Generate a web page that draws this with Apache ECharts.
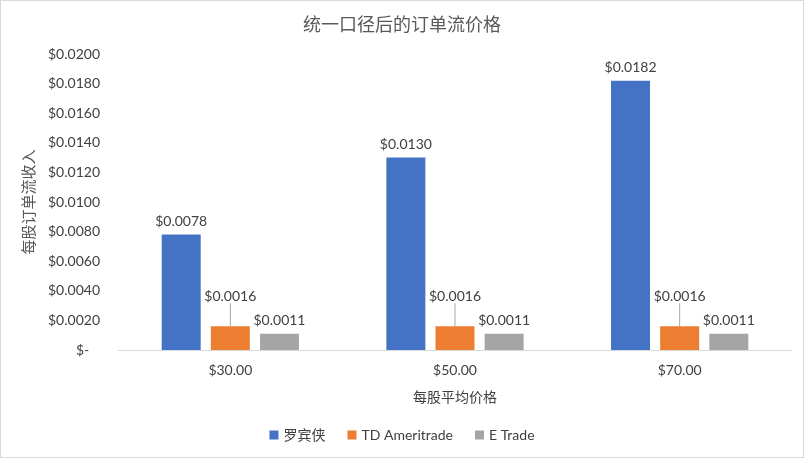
<!DOCTYPE html>
<html>
<head>
<meta charset="utf-8">
<script src="https://cdn.jsdelivr.net/npm/echarts@6/dist/echarts.min.js"></script>
<style>
html,body{margin:0;padding:0;background:#fff;}
#main{width:802px;height:456px;border:1px solid #d9d9d9;}
</style>
</head>
<body>
<div id="main"></div>
<script>
var categories=["$30.00","$50.00","$70.00"];
var seriesNames=["罗宾侠","TD Ameritrade","E Trade"];
var robinhood=[0.0078,0.0130,0.0182];
var tdAmeritrade=[0.0016,0.0016,0.0016];
var eTrade=[0.0011,0.0011,0.0011];
var colors=["#4472C4","#ED7D31","#A5A5A5"];

var fontMain='Lato, "Noto Sans CJK SC", sans-serif';

function money(v){
    return "$"+Number(v).toFixed(4);
}

function makeSeries(name,data,color,raise){
    var s={
        name:name,
        type:"bar",
        data:data,
        barWidth:39,
        barGap:"26%",
        itemStyle:{color:color},
        label:{
            show:true,
            position:"top",
            distance:6,
            color:"#404040",
            fontSize:14,
            fontFamily:fontMain,
            formatter:function(p){return money(p.value);}
        }
    };
    if(raise){
        s.labelLayout={dy:-17};
        s.labelLine={show:true,lineStyle:{color:"#a6a6a6",width:1}};
    }
    return s;
}

var myChart=echarts.init(document.getElementById("main"));
var option={
    backgroundColor:"#fff",
    animation:false,
    title:{
        text:"统一口径后的订单流价格",
        left:"center",
        top:10,
        textStyle:{color:"#595959",fontSize:18,fontWeight:"normal",fontFamily:fontMain}
    },
    legend:{
        bottom:10,
        left:"center",
        itemWidth:9,
        itemHeight:9,
        itemGap:22,
        icon:"rect",
        textStyle:{color:"#404040",fontSize:14,fontFamily:fontMain},
        data:seriesNames
    },
    grid:{left:117,right:11,top:53,bottom:107,containLabel:false},
    xAxis:{
        type:"category",
        data:categories,
        name:"每股平均价格",
        nameLocation:"middle",
        nameGap:40,
        nameTextStyle:{color:"#404040",fontSize:14,fontFamily:fontMain},
        axisLine:{lineStyle:{color:"#d9d9d9"}},
        axisTick:{show:false},
        axisLabel:{color:"#404040",fontSize:14,margin:13,fontFamily:fontMain}
    },
    yAxis:{
        type:"value",
        min:0,
        max:0.02,
        interval:0.002,
        name:"每股订单流收入",
        nameLocation:"middle",
        nameRotate:90,
        nameGap:78,
        nameTextStyle:{color:"#595959",fontSize:15,fontFamily:fontMain},
        splitLine:{show:false},
        axisLine:{show:false},
        axisTick:{show:false},
        axisLabel:{
            color:"#404040",
            fontSize:14,
            margin:18,
            fontFamily:fontMain,
            formatter:function(v){return v===0?"$-   ":money(v);}
        }
    },
    series:[
        makeSeries(seriesNames[0],robinhood,colors[0],false),
        makeSeries(seriesNames[1],tdAmeritrade,colors[1],true),
        makeSeries(seriesNames[2],eTrade,colors[2],false)
    ]
};
myChart.setOption(option);
</script>
</body>
</html>
